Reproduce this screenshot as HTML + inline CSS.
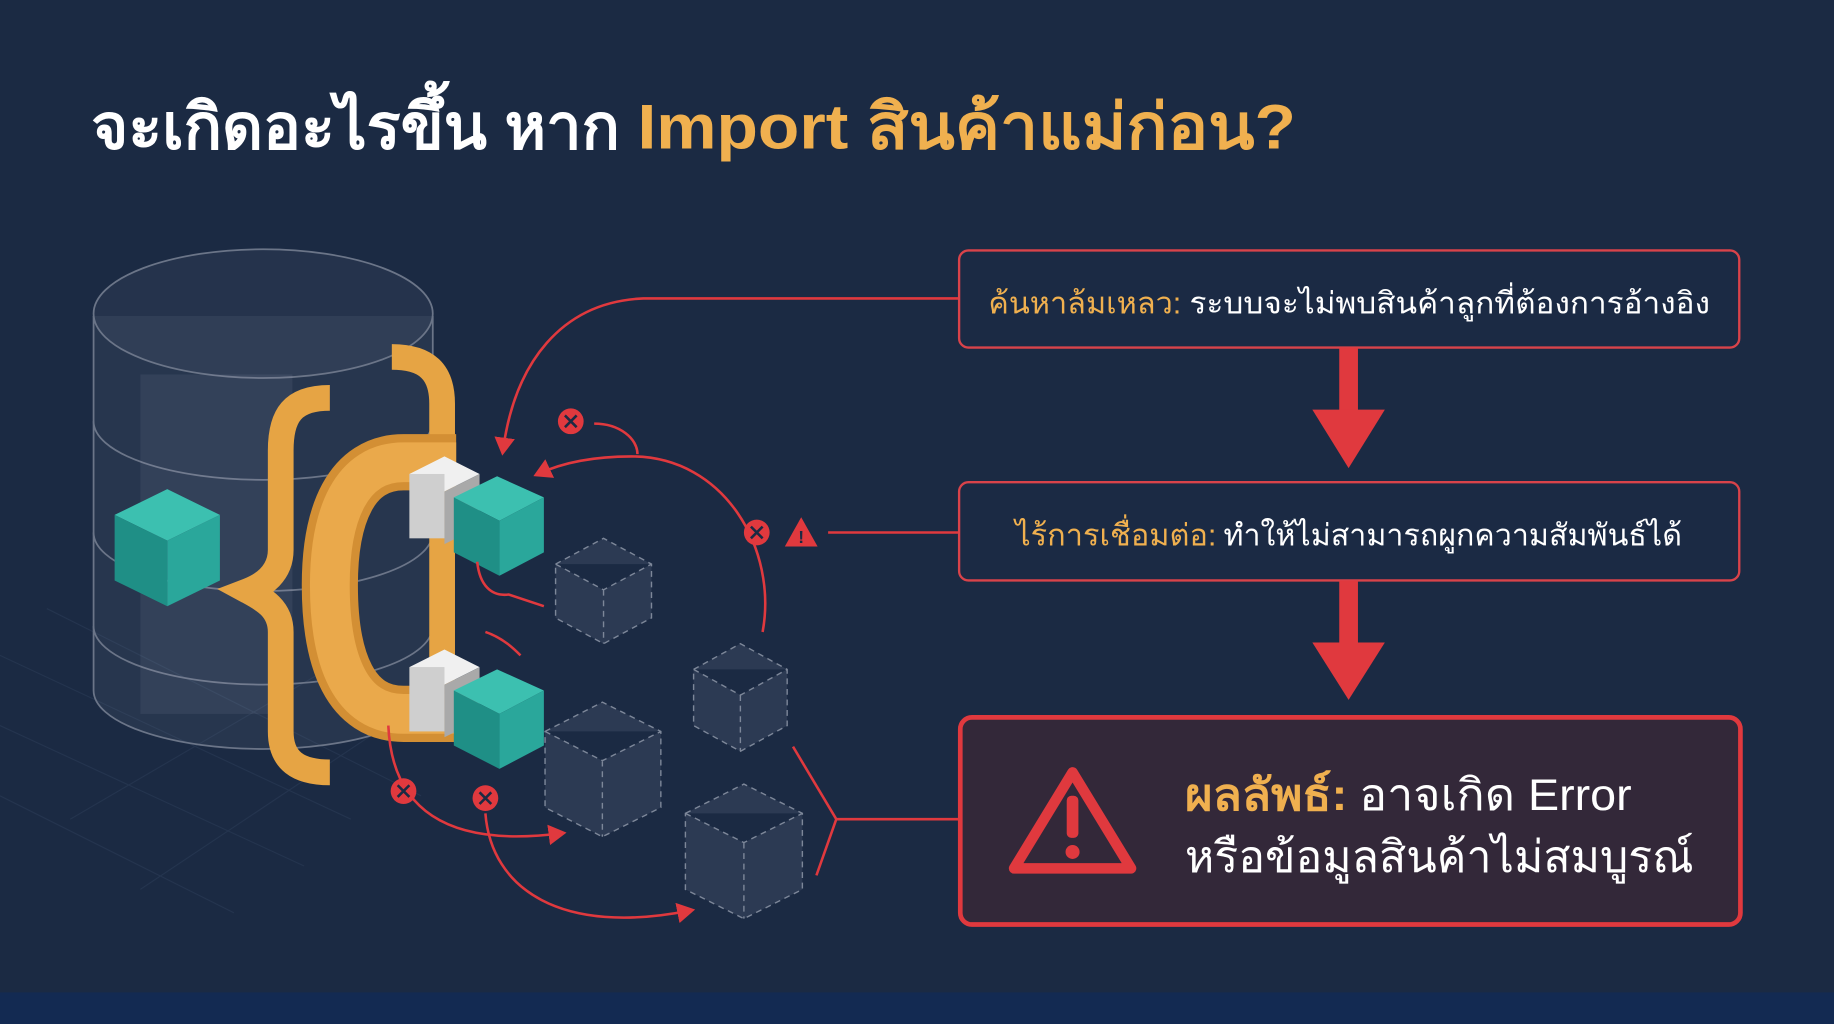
<!DOCTYPE html>
<html><head><meta charset="utf-8"><style>
html,body{margin:0;padding:0;background:#1b2a43;}
svg{display:block}
text{font-family:"Liberation Sans","DejaVu Sans","Noto Sans CJK SC",sans-serif;}
</style></head><body>
<svg width="1834" height="1024" viewBox="0 0 1568 875" preserveAspectRatio="none" xmlns="http://www.w3.org/2000/svg">
<defs>
<marker id="ah" markerWidth="8" markerHeight="8" refX="5" refY="4" orient="auto" markerUnits="strokeWidth"><path d="M0,0 L7,4 L0,8 z" fill="#e0393e"/></marker>
</defs>
<rect width="1568" height="875" fill="#1b2a43"/>
<rect y="848" width="1568" height="27" fill="#132a52"/>
<!-- grid floor faint -->
<g stroke="#24344e" stroke-width="1" fill="none">
<path d="M0,560 L300,700 M0,620 L260,740 M40,520 L360,680 M0,680 L200,780 M300,560 L60,700 M360,600 L120,760"/>
</g>
<!-- title -->
<text x="78" y="127" font-size="54" font-weight="bold" fill="#ffffff" textLength="452" lengthAdjust="spacingAndGlyphs">จะเกิดอะไรขึ้น หาก</text>
<text x="545" y="127" font-size="54" font-weight="bold" fill="#f0b04f" textLength="563" lengthAdjust="spacingAndGlyphs">Import สินค้าแม่ก่อน?</text>

<!-- cylinder -->
<g stroke="#6b7588" stroke-width="1.5" fill="rgba(200,210,225,0.07)">
<path d="M80,270 L80,590 A145,50 0 0 0 370,590 L370,270"/>
<ellipse cx="225" cy="268" rx="145" ry="55" fill="rgba(200,210,225,0.06)"/>
<path d="M80,360 A145,50 0 0 0 370,360" fill="none"/>
<path d="M80,455 A145,50 0 0 0 370,455" fill="none"/>
<path d="M80,535 A145,50 0 0 0 370,535" fill="none"/>
</g>
<rect x="120" y="320" width="130" height="290" fill="rgba(200,210,225,0.08)"/>
<!-- left teal cube -->
<polygon points="98,440 143,418 188,440 143,462" fill="#3cc0b0"/>
<polygon points="98,440 143,462 143,518 98,496" fill="#1f8f86"/>
<polygon points="188,440 143,462 143,518 188,496" fill="#2aa79b"/>
<!-- braces -->
<path d="M282,340 C250,340 240,355 240,385 L240,470 C240,490 225,500 212,505 C225,512 240,520 240,540 L240,625 C240,650 255,660 282,660" fill="none" stroke="#e6a444" stroke-width="22"/>
<path d="M335,305 C365,305 378,318 378,345 L378,630" fill="none" stroke="#e6a444" stroke-width="22"/>
<!-- magnet C -->
<path d="M390,395 L345,395 C300,395 282,440 282,500 C282,565 300,610 345,610 L390,610" fill="none" stroke="#d38f34" stroke-width="48"/>
<path d="M390,395 L345,395 C300,395 282,440 282,500 C282,565 300,610 345,610 L390,610" fill="none" stroke="#eaa94b" stroke-width="34"/>
<!-- gray blocks -->
<polygon points="350,405 380,390 410,405 380,420" fill="#f0f0f0"/>
<rect x="350" y="405" width="30" height="55" fill="#cfcfcf"/><polygon points="380,420 410,405 410,450 380,465" fill="#a9a9a9"/>
<polygon points="350,570 380,555 410,570 380,585" fill="#f0f0f0"/>
<rect x="350" y="570" width="30" height="55" fill="#cfcfcf"/><polygon points="380,585 410,570 410,615 380,630" fill="#a9a9a9"/>
<!-- teal cubes right -->
<g>
<polygon points="388,425 425,407 465,425 427,445" fill="#3cc0b0"/>
<polygon points="388,425 427,445 427,492 388,472" fill="#1f8f86"/>
<polygon points="465,425 427,445 427,492 465,472" fill="#2aa79b"/>
<polygon points="388,590 425,572 465,590 427,610" fill="#3cc0b0"/>
<polygon points="388,590 427,610 427,657 388,637" fill="#1f8f86"/>
<polygon points="465,590 427,610 427,657 465,637" fill="#2aa79b"/>
</g>
<!-- dashed cubes -->
<g fill="rgba(120,135,160,0.18)" stroke="#7d8799" stroke-width="1.2" stroke-dasharray="5,4">
<path d="M475,482 L516,460 L557,482 L557,528 L516,550 L475,528 Z M475,482 L516,504 L557,482 M516,504 L516,550"/>
<path d="M593,572 L633,550 L673,572 L673,620 L633,642 L593,620 Z M593,572 L633,594 L673,572 M633,594 L633,642"/>
<path d="M466,625 L515,600 L565,625 L565,690 L515,715 L466,690 Z M466,625 L515,650 L565,625 M515,650 L515,715"/>
<path d="M586,695 L636,670 L686,695 L686,760 L636,785 L586,760 Z M586,695 L636,720 L686,695 M636,720 L636,785"/>
</g>
<!-- red connectors -->
<g fill="none" stroke="#e0393e" stroke-width="2.2">
<path d="M820,255 L550,255 C480,258 440,310 430,385" marker-end="url(#ah)"/>
<path d="M652,540 C665,470 620,390 540,390 C500,390 475,398 460,405" marker-end="url(#ah)"/>
<path d="M508,362 C530,362 545,375 545,388"/>
<path d="M820,455 L708,455"/>
<path d="M408,480 C410,500 420,510 435,508 L465,518"/>
<path d="M415,540 C430,545 440,555 445,560"/>
<path d="M332,620 C335,690 380,725 480,712" marker-end="url(#ah)"/>
<path d="M415,695 C420,760 480,800 590,778" marker-end="url(#ah)"/>
<path d="M820,700 L715,700 M715,700 L678,638 M715,700 L698,748"/>
</g>
<!-- x circles -->
<g stroke="#1b2a43" stroke-width="0">
<circle cx="488" cy="360" r="11" fill="#e0393e"/>
<circle cx="647" cy="455" r="11" fill="#e0393e"/>
<circle cx="345" cy="676" r="11" fill="#e0393e"/>
<circle cx="415" cy="682" r="11" fill="#e0393e"/>
</g>
<g stroke="#1b2a43" stroke-width="2.2">
<path d="M483,355 L493,365 M493,355 L483,365"/>
<path d="M642,450 L652,460 M652,450 L642,460"/>
<path d="M340,671 L350,681 M350,671 L340,681"/>
<path d="M410,677 L420,687 M420,677 L410,687"/>
</g>
<polygon points="685,442 699,467 671,467" fill="#e0393e"/>
<text x="685" y="464" font-size="15" font-weight="bold" fill="#1b2a43" text-anchor="middle">!</text>

<!-- right boxes -->
<rect x="820" y="214" width="667" height="83" rx="8" fill="#1b2a44" stroke="#d9434a" stroke-width="2"/>
<text x="845" y="268" font-size="26" fill="#f0b04f" textLength="165" lengthAdjust="spacingAndGlyphs">ค้นหาล้มเหลว:</text>
<text x="1017" y="268" font-size="26" fill="#ffffff" textLength="445" lengthAdjust="spacingAndGlyphs">ระบบจะไม่พบสินค้าลูกที่ต้องการอ้างอิง</text>

<rect x="820" y="412" width="667" height="84" rx="8" fill="#1b2a44" stroke="#d9434a" stroke-width="2"/>
<text x="868" y="466" font-size="26" fill="#f0b04f" textLength="172" lengthAdjust="spacingAndGlyphs">ไร้การเชื่อมต่อ:</text>
<text x="1046" y="466" font-size="26" fill="#ffffff" textLength="392" lengthAdjust="spacingAndGlyphs">ทำให้ไม่สามารถผูกความสัมพันธ์ได้</text>

<!-- down arrows -->
<g fill="#e0393e">
<rect x="1145" y="297" width="16" height="55"/>
<polygon points="1122,350 1184,350 1153,400"/>
<rect x="1145" y="496" width="16" height="55"/>
<polygon points="1122,549 1184,549 1153,598"/>
</g>

<rect x="821" y="613" width="667" height="177" rx="10" fill="#332839" stroke="#e0393e" stroke-width="4"/>
<path d="M917,660 L967,742 L867,742 Z" fill="none" stroke="#e0393e" stroke-width="9" stroke-linejoin="round"/>
<rect x="912" y="680" width="10" height="36" rx="4" fill="#e0393e"/>
<circle cx="917" cy="728" r="6" fill="#e0393e"/>
<text x="1013" y="692" font-size="38" font-weight="bold" fill="#f0b04f" textLength="139" lengthAdjust="spacingAndGlyphs">ผลลัพธ์:</text>
<text x="1162" y="692" font-size="38" fill="#ffffff" textLength="233" lengthAdjust="spacingAndGlyphs">อาจเกิด Error</text>
<text x="1013" y="745" font-size="38" fill="#ffffff" textLength="435" lengthAdjust="spacingAndGlyphs">หรือข้อมูลสินค้าไม่สมบูรณ์</text>
</svg>
</body></html>
